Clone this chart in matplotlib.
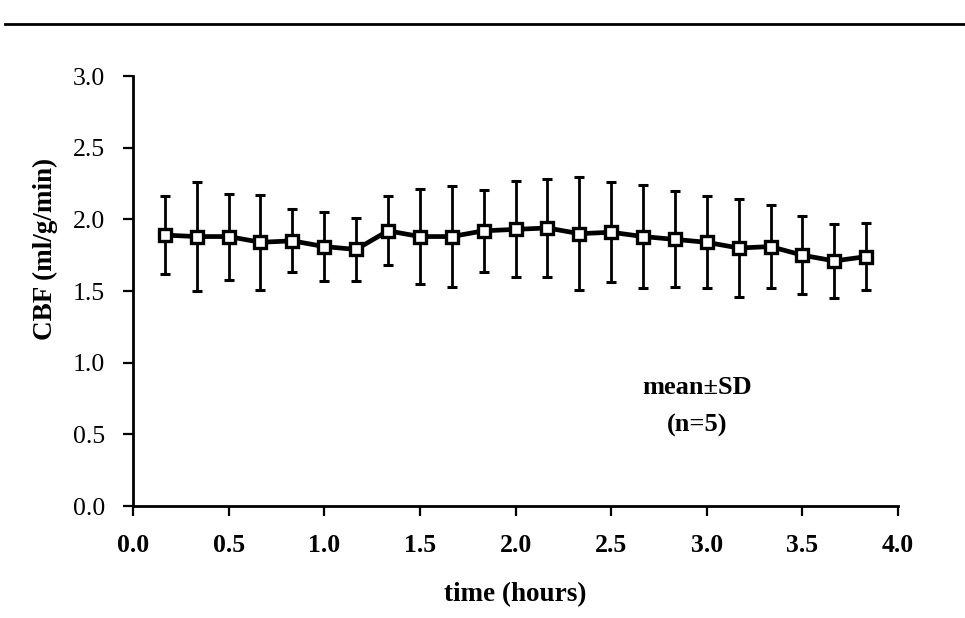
import matplotlib
matplotlib.use("Agg")
import matplotlib.pyplot as plt
from matplotlib.lines import Line2D

# Sampling times (hours) and cerebral blood flow, mean and SD
time_h = [1/6, 2/6, 3/6, 4/6, 5/6, 1.0, 7/6, 8/6, 9/6, 10/6, 11/6, 2.0,
          13/6, 14/6, 15/6, 16/6, 17/6, 3.0, 19/6, 20/6, 21/6, 22/6, 23/6]
cbf_mean = [1.89, 1.88, 1.88, 1.84, 1.85, 1.81, 1.79, 1.92, 1.88, 1.88, 1.92, 1.93,
            1.94, 1.90, 1.91, 1.88, 1.86, 1.84, 1.80, 1.81, 1.75, 1.71, 1.74]
cbf_sd = [0.27, 0.38, 0.30, 0.33, 0.22, 0.24, 0.22, 0.24, 0.33, 0.35, 0.285, 0.335,
          0.34, 0.395, 0.35, 0.36, 0.335, 0.32, 0.34, 0.29, 0.27, 0.26, 0.235]

x_ticks = [0.0, 0.5, 1.0, 1.5, 2.0, 2.5, 3.0, 3.5, 4.0]
y_ticks = [0.0, 0.5, 1.0, 1.5, 2.0, 2.5, 3.0]

plt.rcParams['font.family'] = ['Liberation Serif', 'DejaVu Serif']

fig = plt.figure(figsize=(9.65, 6.18), dpi=100)
ax = fig.add_axes([0.1378, 0.1812, 0.7928, 0.6958])

ax.errorbar(time_h, cbf_mean, yerr=cbf_sd, fmt='none', ecolor='black',
            elinewidth=2.0, capsize=3.8, capthick=2.2, zorder=2)
ax.plot(time_h, cbf_mean, color='black', linewidth=3.4, marker='s',
        markersize=9, markerfacecolor='white', markeredgecolor='black',
        markeredgewidth=2.4, zorder=3)

ax.set_xlim(0, 4)
ax.set_ylim(0, 3)
ax.set_xticks(x_ticks)
ax.set_yticks(y_ticks)
ax.set_xticklabels([f"{v:.1f}" for v in x_ticks], fontweight='bold')
ax.set_yticklabels([f"{v:.1f}" for v in y_ticks])
ax.tick_params(axis='both', direction='out', length=7, width=1.6,
               labelsize=18.5)
ax.tick_params(axis='y', pad=13)
ax.tick_params(axis='x', pad=13)

for side in ('top', 'right'):
    ax.spines[side].set_visible(False)
for side in ('left', 'bottom'):
    ax.spines[side].set_linewidth(2.0)

ax.set_xlabel('time (hours)', fontsize=19.5, fontweight='bold', labelpad=18)
# y-axis title sits above the middle of the axis
fig.text(45 / 965, 1 - 249 / 618, 'CBF (ml/g/min)', fontsize=19.5,
         fontweight='bold', rotation=90, ha='center', va='center')

ax.text(2.95, 0.83, 'mean\u00b1SD', fontsize=19, fontweight='bold',
        ha='center', va='center')
ax.text(2.95, 0.565, '(n=5)', fontsize=19, fontweight='bold',
        ha='center', va='center')

# Rule across the top of the page
fig.add_artist(Line2D([0.005, 1.0], [1 - 23.5 / 618, 1 - 23.5 / 618],
                      transform=fig.transFigure, color='black', linewidth=2.0))

fig.savefig('out.png', dpi=100)
